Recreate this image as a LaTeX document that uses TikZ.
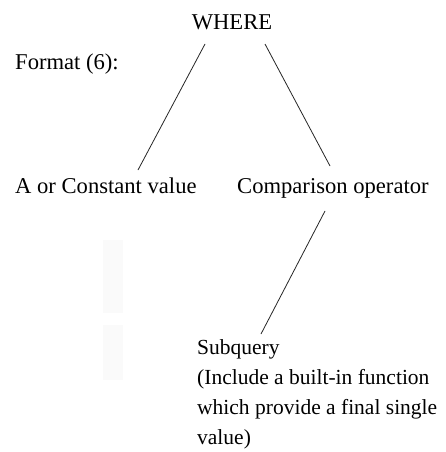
\documentclass[tikz,border=0pt]{standalone}
\usepackage{fontspec}
\setmainfont{Liberation Serif}
\usetikzlibrary{calc}
\begin{document}
\begin{tikzpicture}[x=1pt,y=-1pt,
  lbl/.style={inner sep=0pt,anchor=base west,font=\fontsize{22.6}{30}\selectfont},
  note/.style={inner sep=0pt,anchor=north west,align=left,font=\fontsize{21.5}{30}\selectfont},
  link/.style={line width=0.8pt,black!85}]
\useasboundingbox[fill=white] (0,0) rectangle (445,452);
% faint shaded blocks at the left
\fill[black!2] (103,240) rectangle (123,313);
\fill[black!2] (103,325) rectangle (123,380);
% labels
\node[lbl,anchor=base] (where) at (232,30) {WHERE};
\node[lbl] (fmt) at (15,70) {Format (6):};
\node[lbl] (aval) at (15,193) {A or Constant value};
\node[lbl] (comp) at (237,193) {Comparison operator};
\node[note] (sub) at (197,339)
  {Subquery\\(Include a built-in function\\which provide a final single\\value)};
% connectors
\draw[link] ($(where.base)+(-27,14)$) -- ($(aval.base west)+(123,-23)$);
\draw[link] ($(where.base)+(33,14)$) -- ($(comp.base west)+(93,-27)$);
\draw[link] ($(comp.base west)+(88,18)$) -- ($(sub.north west)+(64,-5)$);
\end{tikzpicture}
\end{document}
